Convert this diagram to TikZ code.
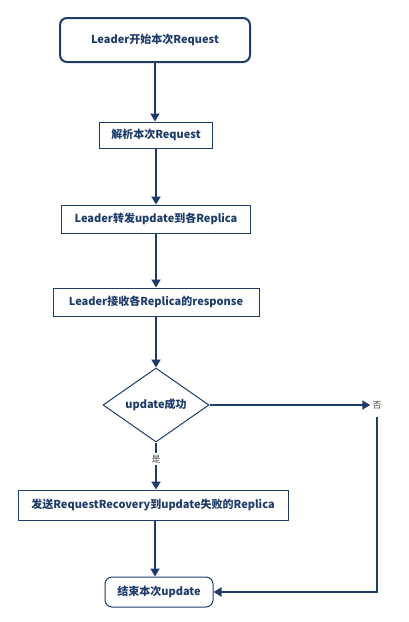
\documentclass[tikz,border=0pt]{standalone}
\usepackage{fontspec}
\newfontfamily\cjk{Noto Sans CJK SC}
\usetikzlibrary{arrows.meta, shapes.geometric}
\definecolor{flowblue}{RGB}{30,60,105}

\begin{document}
\begin{tikzpicture}[
        x=1pt, y=-1pt,
        every node/.style={font=\cjk\bfseries\fontsize{11}{13}\selectfont, text=flowblue},
        stepbox/.style={draw=flowblue, line width=1pt, minimum height=28pt, inner sep=2pt},
        endbox/.style={stepbox, rounded corners=7pt},
        decision/.style={draw=flowblue, line width=1pt, diamond, aspect=1.43,
            minimum width=106pt, minimum height=74pt, inner sep=0pt},
        flow/.style={draw=flowblue, line width=1.8pt, -{Triangle[length=8pt, width=9pt]}},
        answer/.style={font=\cjk\fontsize{9}{11}\selectfont, text=black!70, inner sep=2pt}
    ]
    \useasboundingbox (0,0) rectangle (408,622);

    % Steps of the update
    \node[endbox, line width=2pt, minimum width=190pt, minimum height=44pt] (begin) at (155,40) {Leader开始本次Request};
    \node[stepbox, minimum width=113pt, minimum height=26pt] (parse) at (156,135) {解析本次Request};
    \node[stepbox, minimum width=189pt] (forward) at (156,219) {Leader转发update到各Replica};
    \node[stepbox, minimum width=206pt] (receive) at (156,302) {Leader接收各Replica的response};

    % Decision
    \node[decision] (success) at (156,405) {update成功};
    \node[answer] (no) at (377,405) {否};

    % Recovery and end
    \node[stepbox, minimum width=270pt, minimum height=30pt] (recover) at (153,505) {发送RequestRecovery到update失败的Replica};
    \node[endbox, minimum width=108pt, minimum height=30pt] (finish) at (159,592) {结束本次update};

    % Connectors
    \draw[flow] (begin.south) -- (begin.south |- parse.north);
    \draw[flow] (parse) -- (forward);
    \draw[flow] (forward) -- (receive);
    \draw[flow] (receive) -- (success);
    \draw[flow] (success) -- (no);
    \draw[flow] (success.south) -- node[answer, fill=white, pos=0.35] {是} (success.south |- recover.north);
    \draw[flow] (recover.south -| 155,0) -- (155,0 |- finish.north);
    \draw[flow] (no.south) ++(0,6) |- (finish);

\end{tikzpicture}
\end{document}
